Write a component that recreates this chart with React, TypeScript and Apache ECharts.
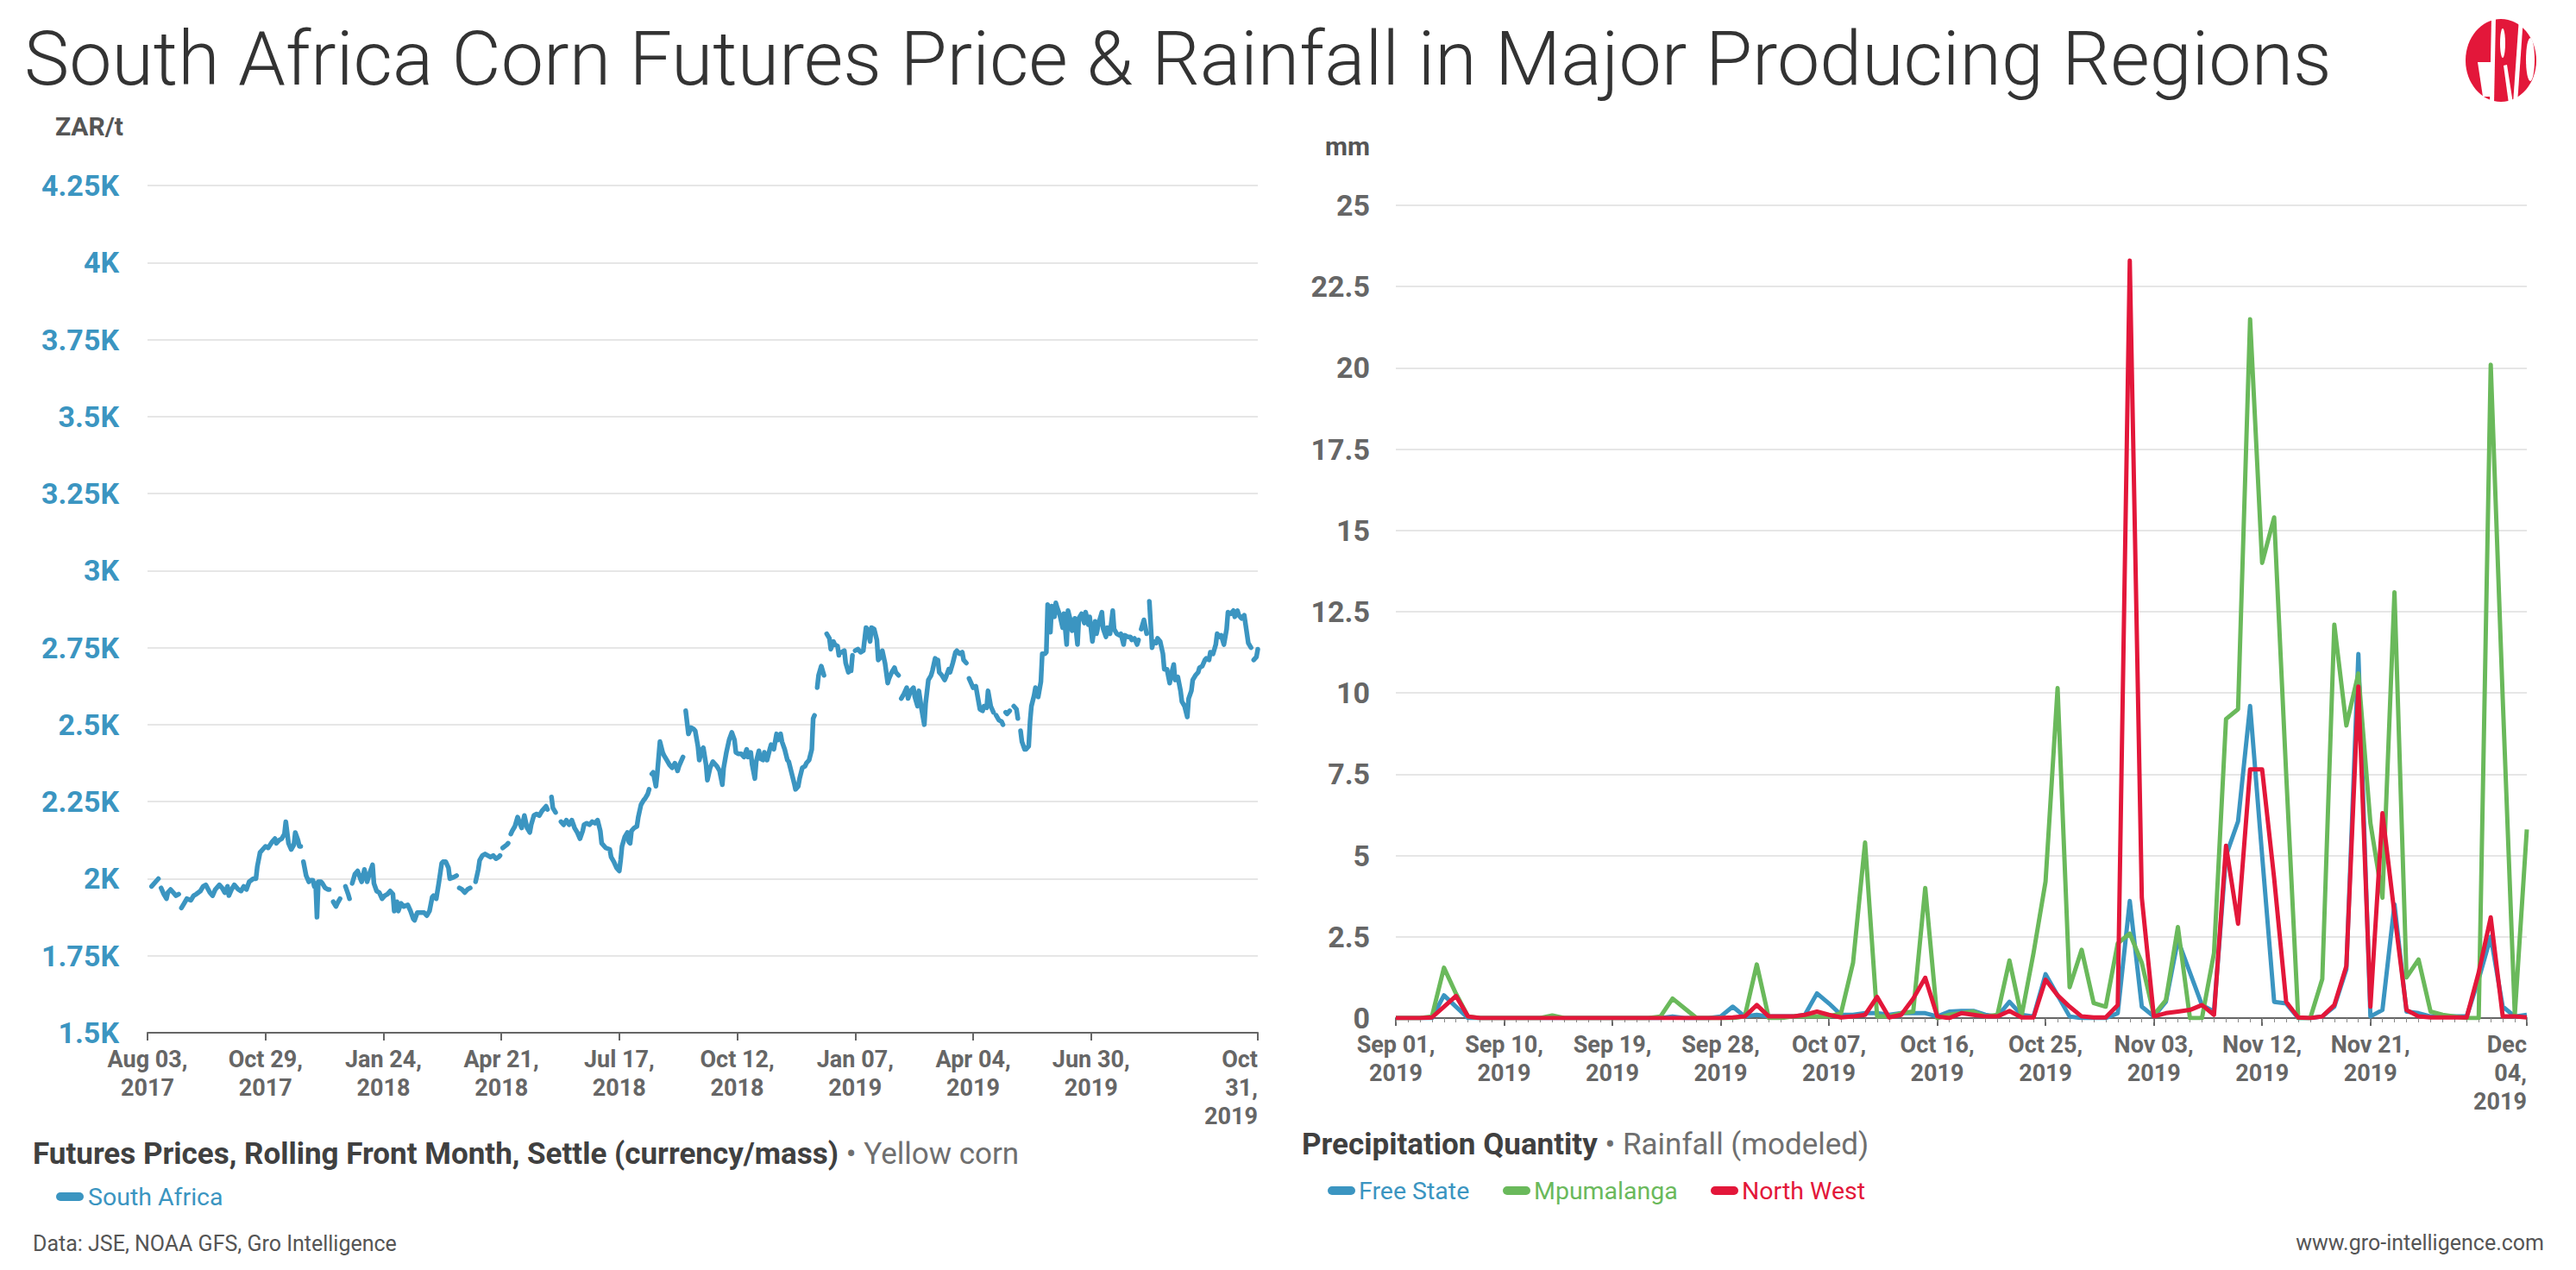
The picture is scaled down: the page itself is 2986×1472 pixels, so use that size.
import React, { useEffect, useRef } from "react";
import * as echarts from "echarts";

const TITLE = "South Africa Corn Futures Price & Rainfall in Major Producing Regions";
const MONTHS = ["Jan", "Feb", "Mar", "Apr", "May", "Jun", "Jul", "Aug", "Sep", "Oct", "Nov", "Dec"];
const DAY_MS = 86400000;

// ---- Left chart: futures price (ZAR/t), x = days since Aug 03, 2017 ----
const PRICE_START = Date.UTC(2017, 7, 3);
const PRICE_END_DAY = 819;
const PRICE_TICK_DAYS = [0, 87, 174, 261, 348, 435, 522, 609, 696, 819];
// [day offset, settle price]; null marks a break in the line
const priceObs: [number, number | null][] = [
  [0, 1915], [2, null], [3, 1975], [6, 1990], [8, 2000], [9, null], [10, 1970], [12, 1950], [14, 1935], [15, 1955],
  [17, 1965], [19, 1955], [21, 1945], [23, 1950], [24, null], [25, 1905], [27, 1920], [29, 1935], [32, 1930], [34, 1945],
  [36, 1950], [39, 1960], [41, 1975], [43, 1980], [46, 1955], [48, 1945], [50, 1965], [53, 1980], [55, 1970], [57, 1955],
  [59, 1975], [60, 1945], [62, 1965], [64, 1980], [67, 1965], [69, 1960], [71, 1975], [73, 1965], [75, 1990], [78, 2000],
  [80, 2000], [81, 2040], [83, 2085], [85, 2095], [87, 2105], [89, 2100], [92, 2120], [94, 2130], [95, 2115], [97, 2125],
  [99, 2130], [101, 2145], [102, 2185], [103, 2150], [104, 2115], [106, 2095], [108, 2110], [109, 2150], [111, 2125], [112, 2105],
  [113, 2105], [114, null], [115, 2055], [117, 2010], [119, 1990], [120, 1995], [122, 1995], [123, 1975], [124, 1985], [125, 1875],
  [126, 1990], [128, 1990], [129, 1985], [131, 1970], [133, 1965], [134, 1965], [135, null], [137, 1925], [139, 1910], [140, 1920],
  [142, 1935], [144, null], [146, 1975], [148, 1950], [149, 1935], [150, null], [151, 1985], [153, 2015], [155, 2025], [157, 2000],
  [158, 1990], [160, 2030], [162, 1990], [164, 2020], [166, 2045], [167, 1985], [169, 1960], [171, 1955], [173, 1935], [175, 1945],
  [177, 1950], [179, 1960], [181, 1950], [182, 1895], [184, 1925], [185, 1895], [187, 1920], [189, 1910], [192, 1915], [194, 1895],
  [196, 1870], [197, 1865], [199, 1890], [202, 1890], [204, 1890], [206, 1880], [208, 1895], [210, 1940], [211, 1945], [213, 1935],
  [215, 1990], [217, 2050], [218, 2055], [220, 2055], [222, 2035], [223, 2000], [226, 2005], [228, 2010], [229, null], [230, 1970],
  [232, 1965], [234, 1955], [236, 1965], [238, 1970], [240, null], [242, 1990], [244, 2030], [245, 2060], [247, 2075], [249, 2080],
  [251, 2075], [253, 2070], [255, 2075], [257, 2065], [259, 2070], [260, 2075], [261, null], [262, 2100], [265, 2110], [266, 2115],
  [267, null], [268, 2145], [269, 2155], [271, 2170], [273, 2200], [275, 2175], [276, 2165], [278, 2205], [280, 2165], [282, 2150],
  [283, 2175], [285, 2205], [287, 2210], [289, 2205], [291, 2220], [293, 2230], [294, 2235], [295, 2225], [296, null], [298, 2265],
  [299, 2230], [301, 2215], [303, null], [305, 2185], [307, 2175], [309, 2190], [311, 2175], [313, 2190], [315, 2165], [317, 2150],
  [319, 2130], [321, 2155], [322, 2175], [324, 2180], [326, 2175], [328, 2185], [330, 2180], [332, 2190], [334, 2155], [335, 2115],
  [338, 2100], [341, 2095], [342, 2070], [344, 2055], [346, 2035], [348, 2025], [349, 2060], [350, 2105], [352, 2135], [354, 2150],
  [355, 2120], [356, 2115], [357, 2155], [359, 2165], [361, 2170], [362, 2200], [364, 2240], [366, 2255], [367, 2260], [369, 2275],
  [370, 2290], [371, null], [372, 2340], [373, 2345], [375, 2300], [376, 2340], [378, 2445], [380, 2410], [381, 2400], [383, 2385],
  [385, 2370], [387, 2360], [389, 2375], [391, 2350], [392, 2365], [394, 2385], [395, 2395], [396, null], [397, 2545], [399, 2470],
  [401, 2490], [403, 2485], [404, 2480], [406, 2430], [407, 2385], [409, 2420], [410, 2425], [412, 2370], [413, 2320], [415, 2360],
  [417, 2380], [418, 2375], [420, 2365], [422, 2350], [424, 2305], [425, 2360], [427, 2410], [429, 2450], [431, 2475], [433, 2450],
  [434, 2410], [436, 2405], [438, 2405], [440, 2395], [442, 2420], [443, 2395], [445, 2410], [446, 2370], [448, 2325], [449, 2380],
  [451, 2415], [452, 2390], [454, 2385], [455, 2410], [457, 2385], [459, 2420], [460, 2435], [462, 2420], [464, 2470], [465, 2450],
  [467, 2470], [468, 2445], [470, 2420], [472, 2385], [473, 2380], [475, 2345], [477, 2310], [478, 2290], [480, 2300], [481, 2325],
  [483, 2360], [485, 2365], [486, 2375], [488, 2385], [490, 2420], [491, 2520], [492, 2530], [493, null], [494, 2620], [495, 2660],
  [497, 2690], [499, 2660], [500, null], [501, 2795], [503, 2780], [504, 2745], [506, 2770], [507, 2760], [509, 2755], [510, 2725],
  [511, null], [512, 2735], [514, 2740], [515, 2700], [517, 2670], [518, null], [519, 2675], [520, 2725], [521, null], [522, 2740],
  [524, 2745], [526, 2735], [528, 2740], [530, 2815], [531, 2810], [533, 2770], [534, 2815], [536, 2810], [538, 2775], [539, 2710],
  [541, 2720], [542, 2740], [544, 2700], [546, 2635], [547, 2650], [549, 2670], [551, 2685], [552, 2670], [554, 2660], [555, null],
  [556, 2585], [558, 2600], [560, 2620], [561, 2585], [563, 2610], [565, 2620], [566, 2590], [568, 2560], [569, 2610], [571, 2550],
  [573, 2500], [574, 2570], [576, 2645], [578, 2660], [579, 2675], [581, 2715], [582, null], [583, 2710], [584, 2670], [586, 2660],
  [588, 2645], [589, 2655], [591, 2680], [592, 2670], [594, 2700], [596, 2735], [597, 2740], [599, 2730], [601, 2735], [602, 2710],
  [604, 2700], [605, null], [606, 2650], [607, 2640], [609, 2620], [611, 2625], [612, 2600], [614, 2550], [616, 2545], [617, 2560],
  [619, 2555], [620, 2610], [622, 2560], [624, 2540], [625, null], [626, 2530], [628, 2515], [630, 2510], [631, 2500], [632, null],
  [633, 2540], [634, 2535], [636, 2545], [637, null], [639, 2560], [641, 2550], [642, 2520], [643, null], [644, 2480], [645, 2445],
  [647, 2420], [648, 2420], [650, 2430], [651, 2510], [652, 2560], [654, 2595], [655, 2620], [657, 2590], [659, 2640], [660, 2730],
  [662, 2730], [663, 2735], [664, 2890], [665, 2855], [666, 2800], [667, 2885], [669, 2850], [670, 2895], [671, 2880], [673, 2855],
  [675, 2815], [676, 2860], [678, 2760], [679, 2870], [681, 2835], [682, 2805], [684, 2845], [686, 2760], [687, 2845], [689, 2860],
  [691, 2830], [692, 2865], [694, 2825], [695, 2850], [697, 2770], [699, 2835], [700, 2795], [702, 2835], [704, 2865], [705, 2810],
  [707, 2785], [708, 2815], [710, 2795], [712, 2870], [713, 2810], [715, 2795], [717, 2790], [718, 2795], [720, 2760], [721, 2790],
  [723, 2785], [725, 2785], [726, 2775], [728, 2780], [730, 2760], [731, 2775], [732, null], [733, 2810], [735, 2840], [737, 2795],
  [738, null], [739, 2900], [741, 2750], [742, 2770], [744, 2765], [745, 2780], [747, 2770], [749, 2730], [750, 2680], [752, 2680],
  [754, 2635], [755, 2660], [757, 2695], [758, 2645], [760, 2655], [762, 2610], [763, 2575], [765, 2560], [767, 2525], [768, 2585],
  [770, 2610], [771, 2645], [773, 2660], [775, 2670], [776, 2685], [778, 2690], [780, 2710], [781, 2715], [783, 2710], [784, 2735],
  [786, 2730], [788, 2760], [789, 2795], [791, 2785], [792, 2790], [794, 2760], [796, 2810], [797, 2865], [799, 2860], [801, 2870],
  [802, 2850], [804, 2870], [805, 2855], [807, 2845], [809, 2855], [810, 2825], [812, 2765], [814, 2750], [815, null], [816, 2710],
  [818, 2720], [819, 2745],
];

// ---- Right chart: daily modeled rainfall (mm), Sep 01 – Dec 04, 2019 ----
const RAIN_START = Date.UTC(2019, 8, 1);
const RAIN_END_DAY = 94;
const RAIN_TICK_DAYS = [0, 9, 18, 27, 36, 45, 54, 63, 72, 81, 94];
const freeState = [
  0, 0, 0, 0, 0.7, 0.35, 0, 0, 0, 0,
  0, 0, 0, 0, 0, 0, 0, 0, 0, 0,
  0, 0, 0, 0.05, 0, 0, 0, 0.05, 0.35, 0.05,
  0.1, 0.05, 0.05, 0.05, 0.1, 0.76, 0.45, 0.1, 0.1, 0.15,
  0.15, 0.1, 0.15, 0.15, 0.15, 0.05, 0.2, 0.22, 0.22, 0.1,
  0.05, 0.5, 0.1, 0.05, 1.35, 0.7, 0.05, 0, 0, 0,
  0.15, 3.6, 0.35, 0.05, 0.5, 2.4, 1.4, 0.4, 0.2, 5.0,
  6.05, 9.6, 5.0, 0.5, 0.45, 0, 0, 0.05, 0.35, 1.5,
  11.2, 0.05, 0.25, 3.5, 0.2, 0.15, 0.05, 0.05, 0.05, 0.05,
  1.2, 2.5, 0.35, 0.05, 0.1,
];
const mpumalanga = [
  0, 0, 0, 0.05, 1.55, 0.75, 0.05, 0, 0, 0,
  0, 0, 0, 0.08, 0, 0, 0, 0, 0, 0,
  0, 0, 0.05, 0.6, 0.3, 0, 0, 0, 0, 0.05,
  1.65, 0, 0, 0.05, 0.05, 0.05, 0.05, 0.15, 1.7, 5.4,
  0.05, 0.05, 0.15, 0.2, 4.0, 0, 0.1, 0.15, 0.2, 0.05,
  0.1, 1.77, 0.05, 2.0, 4.2, 10.15, 0.95, 2.1, 0.46, 0.35,
  2.3, 2.6, 1.7, 0.1, 0.55, 2.8, 0, 0, 2.0, 9.2,
  9.5, 21.5, 14.0, 15.4, 7.5, 0, 0, 1.2, 12.1, 9.0,
  10.6, 6.0, 3.7, 13.1, 1.25, 1.8, 0.2, 0.1, 0.05, 0,
  0, 20.1, 9.8, 0.1, 5.8,
];
const northWest = [
  0, 0, 0, 0.02, 0.35, 0.68, 0.05, 0, 0, 0,
  0, 0, 0, 0, 0, 0, 0, 0, 0, 0,
  0, 0, 0, 0, 0, 0, 0, 0, 0.02, 0.05,
  0.4, 0.05, 0.05, 0.05, 0.1, 0.2, 0.1, 0.02, 0.05, 0.1,
  0.65, 0.02, 0.1, 0.6, 1.24, 0.05, 0, 0.15, 0.1, 0.05,
  0.05, 0.22, 0.02, 0.02, 1.18, 0.7, 0.35, 0.05, 0.02, 0.02,
  0.4, 23.3, 3.7, 0.05, 0.15, 0.2, 0.25, 0.4, 0.1, 5.3,
  2.9, 7.65, 7.65, 4.3, 0.5, 0.02, 0, 0.05, 0.4, 1.6,
  10.2, 0.35, 6.3, 3.2, 0.25, 0.05, 0.02, 0.02, 0.02, 0.02,
  1.4, 3.1, 0.05, 0.05, 0.02,
];
const rainSeries = [
  { name: "Free State", values: freeState },
  { name: "Mpumalanga", values: mpumalanga },
  { name: "North West", values: northWest },
];

const BLUE = "#3b95c1";
const GREEN = "#6ab95b";
const RED = "#e3173a";
const RAIN_COLORS = [BLUE, GREEN, RED];
const AXIS_GRAY = "#666666";
const FONT = "Roboto";

function dateLabel(start: number, day: number, lastDay: number): string {
  const d = new Date(start + Math.round(day) * DAY_MS);
  const m = MONTHS[d.getUTCMonth()];
  const dd = String(d.getUTCDate()).padStart(2, "0");
  const y = d.getUTCFullYear();
  return Math.round(day) === lastDay ? `${m}\n${dd},\n${y}` : `${m} ${dd},\n${y}`;
}

const xLabelStyle = {
  color: AXIS_GRAY,
  fontFamily: FONT,
  fontWeight: "bold" as const,
  fontSize: 27,
  lineHeight: 33,
  margin: 14,
};

export default function App() {
  const ref = useRef<HTMLDivElement>(null);

  useEffect(() => {
    if (!ref.current) return;
    const chart = echarts.init(ref.current, undefined, { renderer: "svg" });

    const txt = (x: number, y: number, text: string, size: number, fill: string, weight: string | number = "normal", align = "left") => ({
      type: "text",
      x,
      y,
      silent: true,
      style: { text, fill, fontSize: size, fontFamily: FONT, fontWeight: weight, align, verticalAlign: "middle" },
    });
    const legendBar = (x: number, y: number, color: string) => ({
      type: "rect",
      silent: true,
      shape: { x, y: y - 5, width: 32, height: 10, r: 5 },
      style: { fill: color },
    });
    const white = { fill: "#ffffff" };

    const option: any = {
      animation: false,
      backgroundColor: "#ffffff",
      grid: [
        { left: 171, top: 215, width: 1287, height: 982 },
        { left: 1618, top: 238, width: 1311, height: 942 },
      ],
      xAxis: [
        {
          gridIndex: 0,
          type: "value",
          min: 0,
          max: PRICE_END_DAY,
          interval: 87,
          axisLine: { show: true, lineStyle: { color: AXIS_GRAY, width: 2 } },
          axisTick: { show: true, length: 9, lineStyle: { color: AXIS_GRAY, width: 2 }, customValues: PRICE_TICK_DAYS },
          axisLabel: {
            ...xLabelStyle,
            customValues: PRICE_TICK_DAYS,
            alignMaxLabel: "right",
            formatter: (v: number) => dateLabel(PRICE_START, v, PRICE_END_DAY),
          },
          splitLine: { show: false },
        },
        {
          gridIndex: 1,
          type: "value",
          min: 0,
          max: RAIN_END_DAY,
          interval: 9,
          axisLine: { show: true, lineStyle: { color: AXIS_GRAY, width: 2 } },
          axisTick: { show: true, length: 9, lineStyle: { color: AXIS_GRAY, width: 2 }, customValues: RAIN_TICK_DAYS },
          axisLabel: {
            ...xLabelStyle,
            customValues: RAIN_TICK_DAYS,
            alignMaxLabel: "right",
            formatter: (v: number) => dateLabel(RAIN_START, v, RAIN_END_DAY),
          },
          splitLine: { show: false },
        },
        {
          // daily minor ticks
          gridIndex: 1,
          type: "value",
          position: "bottom",
          min: 0,
          max: RAIN_END_DAY,
          interval: 1,
          axisLine: { show: false },
          axisTick: { show: true, length: 5, lineStyle: { color: "#8a8a8a", width: 1 } },
          axisLabel: { show: false },
          splitLine: { show: false },
        },
      ],
      yAxis: [
        {
          gridIndex: 0,
          type: "value",
          min: 1500,
          max: 4250,
          interval: 250,
          axisLine: { show: false },
          axisTick: { show: false },
          splitLine: { lineStyle: { color: "#e6e6e6", width: 2 } },
          axisLabel: {
            formatter: (v: number) => `${v / 1000}K`,
            color: BLUE,
            fontFamily: FONT,
            fontWeight: "bold",
            fontSize: 34,
            margin: 33,
          },
        },
        {
          gridIndex: 1,
          type: "value",
          min: 0,
          max: 25,
          interval: 2.5,
          axisLine: { show: false },
          axisTick: { show: false },
          splitLine: { lineStyle: { color: "#e6e6e6", width: 2 } },
          axisLabel: {
            color: AXIS_GRAY,
            fontFamily: FONT,
            fontWeight: "bold",
            fontSize: 34,
            margin: 30,
          },
        },
      ],
      series: [
        {
          name: "South Africa",
          type: "line",
          xAxisIndex: 0,
          yAxisIndex: 0,
          showSymbol: false,
          connectNulls: false,
          lineStyle: { color: BLUE, width: 5.5, join: "round", cap: "round" },
          itemStyle: { color: BLUE },
          data: priceObs.map(([d, v]) => [d, v === null ? "-" : v]),
        },
        ...rainSeries.map((s, i) => ({
          name: s.name,
          type: "line",
          xAxisIndex: 1,
          yAxisIndex: 1,
          showSymbol: false,
          lineStyle: { color: RAIN_COLORS[i], width: 5, join: "round" },
          itemStyle: { color: RAIN_COLORS[i] },
          data: s.values.map((v, d) => [d, v]),
          z: 2 + i,
        })),
      ],
      graphic: [
        txt(28, 67, TITLE, 88, "#333333", 300),
        // GRO logo
        { type: "ellipse", silent: true, shape: { cx: 2899, cy: 70, rx: 41, ry: 48 }, style: { fill: RED } },
        { type: "polygon", silent: true, shape: { points: [[2888, 20], [2893, 20], [2891, 120], [2886, 120]] }, style: white },
        { type: "polygon", silent: true, shape: { points: [[2872, 72], [2887, 72], [2887, 112], [2878, 112]] }, style: white },
        { type: "ellipse", silent: true, shape: { cx: 2901, cy: 50, rx: 3, ry: 17 }, style: white },
        { type: "polygon", silent: true, shape: { points: [[2902, 76], [2906, 75], [2913, 120], [2908, 120]] }, style: white },
        { type: "polygon", silent: true, shape: { points: [[2920, 20], [2925, 20], [2918, 120], [2913, 120]] }, style: white },
        { type: "ellipse", silent: true, shape: { cx: 2933, cy: 69, rx: 5, ry: 25 }, style: white },
        // axis units
        txt(143, 146, "ZAR/t", 30, "#555555", "bold", "right"),
        txt(1588, 169, "mm", 30, "#555555", "bold", "right"),
        // left footer
        {
          type: "text",
          x: 38,
          y: 1337,
          silent: true,
          style: {
            text: "{b|Futures Prices, Rolling Front Month, Settle (currency/mass)}{n| • Yellow corn}",
            verticalAlign: "middle",
            rich: {
              b: { fontFamily: FONT, fontWeight: "bold", fontSize: 35, fill: "#404040" },
              n: { fontFamily: FONT, fontWeight: "normal", fontSize: 35, fill: "#6f6f6f" },
            },
          },
        },
        legendBar(65, 1387, BLUE),
        txt(102, 1387, "South Africa", 28.5, BLUE),
        txt(38, 1441, "Data: JSE, NOAA GFS, Gro Intelligence", 25, "#555555"),
        // right footer
        {
          type: "text",
          x: 1509,
          y: 1326,
          silent: true,
          style: {
            text: "{b|Precipitation Quantity}{n| • Rainfall (modeled)}",
            verticalAlign: "middle",
            rich: {
              b: { fontFamily: FONT, fontWeight: "bold", fontSize: 35, fill: "#404040" },
              n: { fontFamily: FONT, fontWeight: "normal", fontSize: 35, fill: "#6f6f6f" },
            },
          },
        },
        legendBar(1539, 1380, BLUE),
        txt(1575, 1380, "Free State", 28.5, BLUE),
        legendBar(1742, 1380, GREEN),
        txt(1778, 1380, "Mpumalanga", 28.5, GREEN),
        legendBar(1983, 1380, RED),
        txt(2019, 1380, "North West", 28.5, RED),
        txt(2949, 1440, "www.gro-intelligence.com", 25, "#555555", "normal", "right"),
      ],
    };

    chart.setOption(option);
    return () => chart.dispose();
  }, []);

  return (
    <div
      ref={ref}
      style={{ position: "fixed", left: 0, top: 0, width: 2986, height: 1472, background: "#ffffff" }}
    />
  );
}
